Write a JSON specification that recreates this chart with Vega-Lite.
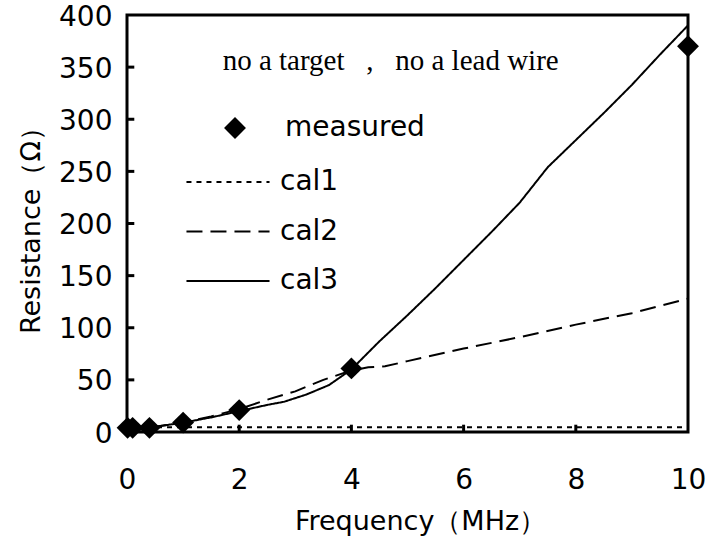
{
  "$schema": "https://vega.github.io/schema/vega-lite/v6.json",
  "width": 561,
  "height": 417,
  "autosize": "none",
  "padding": {"left": 127, "top": 15, "right": 22, "bottom": 109},
  "background": "white",
  "config": {
    "view": {"stroke": "#000", "strokeWidth": 3},
    "font": "DejaVu Sans",
    "axis": {
      "grid": false,
      "domain": false,
      "ticks": false,
      "labelColor": "#000",
      "labelFont": "DejaVu Sans",
      "labelFontSize": 28,
      "titleFont": "DejaVu Sans",
      "titleFontSize": 27,
      "titleFontWeight": "normal",
      "titleColor": "#000"
    },
    "legend": {
      "labelFont": "DejaVu Sans",
      "labelFontSize": 28,
      "labelColor": "#000",
      "padding": 0,
      "title": null
    }
  },
  "resolve": {"axis": {"x": "independent", "y": "independent"}},
  "datasets": {
    "measured": [
      {"series": "measured", "freq": 0.01, "res": 4},
      {"series": "measured", "freq": 0.1, "res": 4},
      {"series": "measured", "freq": 0.4, "res": 4},
      {"series": "measured", "freq": 1, "res": 9},
      {"series": "measured", "freq": 2, "res": 21},
      {"series": "measured", "freq": 4, "res": 61},
      {"series": "measured", "freq": 10, "res": 370}
    ],
    "cal": [
      {"series": "cal1", "freq": 0, "res": 4.5},
      {"series": "cal1", "freq": 10, "res": 4.5},
      {"series": "cal2", "freq": 0, "res": 3},
      {"series": "cal2", "freq": 0.5, "res": 5},
      {"series": "cal2", "freq": 1, "res": 9},
      {"series": "cal2", "freq": 1.5, "res": 15},
      {"series": "cal2", "freq": 2, "res": 22},
      {"series": "cal2", "freq": 2.5, "res": 31},
      {"series": "cal2", "freq": 3, "res": 39},
      {"series": "cal2", "freq": 3.5, "res": 50},
      {"series": "cal2", "freq": 4, "res": 59},
      {"series": "cal2", "freq": 4.3, "res": 62},
      {"series": "cal2", "freq": 4.6, "res": 63},
      {"series": "cal2", "freq": 5, "res": 68},
      {"series": "cal2", "freq": 6, "res": 80},
      {"series": "cal2", "freq": 7, "res": 91},
      {"series": "cal2", "freq": 8, "res": 103},
      {"series": "cal2", "freq": 9, "res": 114},
      {"series": "cal2", "freq": 10, "res": 128},
      {"series": "cal3", "freq": 0, "res": 3},
      {"series": "cal3", "freq": 0.5, "res": 5},
      {"series": "cal3", "freq": 1, "res": 9},
      {"series": "cal3", "freq": 1.5, "res": 14},
      {"series": "cal3", "freq": 2, "res": 20},
      {"series": "cal3", "freq": 2.5, "res": 26},
      {"series": "cal3", "freq": 2.8, "res": 29},
      {"series": "cal3", "freq": 3.2, "res": 36},
      {"series": "cal3", "freq": 3.6, "res": 45},
      {"series": "cal3", "freq": 4, "res": 60},
      {"series": "cal3", "freq": 4.5, "res": 87},
      {"series": "cal3", "freq": 5, "res": 112},
      {"series": "cal3", "freq": 5.5, "res": 138},
      {"series": "cal3", "freq": 6, "res": 165},
      {"series": "cal3", "freq": 6.5, "res": 192},
      {"series": "cal3", "freq": 7, "res": 220},
      {"series": "cal3", "freq": 7.5, "res": 254},
      {"series": "cal3", "freq": 8, "res": 280},
      {"series": "cal3", "freq": 8.5, "res": 306},
      {"series": "cal3", "freq": 9, "res": 333},
      {"series": "cal3", "freq": 9.5, "res": 362},
      {"series": "cal3", "freq": 10, "res": 390}
    ],
    "xticks": [{"tick": 2}, {"tick": 4}, {"tick": 6}, {"tick": 8}],
    "yticks": [{"tick": 50}, {"tick": 100}, {"tick": 150}, {"tick": 200}, {"tick": 250}, {"tick": 300}, {"tick": 350}]
  },
  "layer": [
    {
      "data": {"name": "cal"},
      "mark": {"type": "line", "color": "#000", "strokeWidth": 2},
      "encoding": {
        "x": {
          "field": "freq",
          "type": "quantitative",
          "scale": {"domain": [0, 10], "nice": false},
          "axis": {"title": "Frequency（MHz）", "values": [0, 2, 4, 6, 8, 10], "labelPadding": 34, "titlePadding": 14, "labelFlush": false, "titleX": 293, "titleAlign": "center"}
        },
        "y": {
          "field": "res",
          "type": "quantitative",
          "scale": {"domain": [0, 400], "nice": false},
          "axis": {"title": "Resistance（Ω）", "values": [0, 50, 100, 150, 200, 250, 300, 350, 400], "labelPadding": 15, "titlePadding": 13, "labelFlush": false, "labelOffset": 2}
        },
        "strokeDash": {
          "field": "series",
          "type": "nominal",
          "scale": {"domain": ["cal1", "cal2", "cal3"], "range": [[5, 5], [16, 8], [1, 0]]},
          "legend": {
            "orient": "none",
            "legendX": 87,
            "legendY": 153,
            "symbolType": "M-10,0H10",
            "symbolSize": 69,
            "symbolStrokeColor": "#000",
            "symbolStrokeWidth": 2,
            "labelOffset": 38,
            "rowPadding": 21.5
          }
        }
      }
    },
    {
      "data": {"name": "xticks"},
      "mark": {"type": "rule", "color": "#000", "strokeWidth": 3},
      "encoding": {
        "x": {"field": "tick", "type": "quantitative", "axis": null},
        "y": {"datum": 0, "axis": null},
        "y2": {"datum": 7}
      }
    },
    {
      "data": {"name": "yticks"},
      "mark": {"type": "rule", "color": "#000", "strokeWidth": 3},
      "encoding": {
        "y": {"field": "tick", "type": "quantitative", "axis": null},
        "x": {"datum": 0, "axis": null},
        "x2": {"datum": 0.13}
      }
    },
    {
      "data": {"name": "measured"},
      "mark": {"type": "point", "filled": true, "color": "#000", "opacity": 1, "size": 480},
      "encoding": {
        "x": {"field": "freq", "type": "quantitative", "axis": null},
        "y": {"field": "res", "type": "quantitative", "axis": null},
        "shape": {
          "field": "series",
          "type": "nominal",
          "scale": {"domain": ["measured"], "range": ["diamond"]},
          "legend": {
            "orient": "none",
            "legendX": 94,
            "legendY": 99,
            "symbolSize": 480,
            "symbolFillColor": "#000",
            "symbolStrokeColor": "#000",
            "symbolOpacity": 1,
            "labelOffset": 36
          }
        }
      }
    },
    {
      "data": {"values": [{"note": "no a target\u00a0\u00a0\u00a0,\u00a0\u00a0\u00a0no a lead wire"}]},
      "mark": {"type": "text", "font": "Liberation Serif", "fontSize": 29, "align": "center", "baseline": "middle", "color": "#000"},
      "encoding": {
        "x": {"datum": 4.7, "axis": null},
        "y": {"datum": 356, "axis": null},
        "text": {"field": "note"}
      }
    }
  ]
}
